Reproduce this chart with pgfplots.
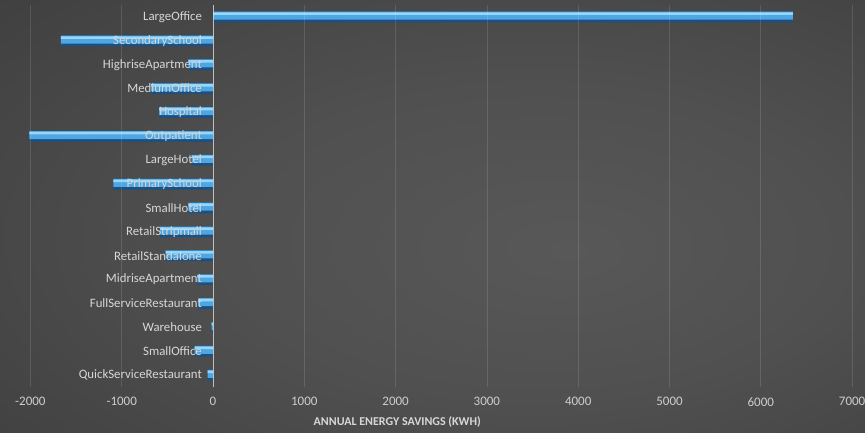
\documentclass[border=0pt]{standalone}
\usepackage{pgfplots}
\pgfplotsset{compat=1.18}
\usepackage{fontspec}
\setmainfont{Carlito}
\definecolor{bgin}{RGB}{88,88,88}
\definecolor{bgmid}{RGB}{80,80,80}
\definecolor{bgout}{RGB}{40,40,40}
\definecolor{bartop}{RGB}{150,214,248}
\definecolor{barmid}{RGB}{78,166,226}
\definecolor{barbot}{RGB}{28,80,130}
\definecolor{lbl}{RGB}{215,215,215}
\definecolor{tlbl}{RGB}{205,205,205}
\pgfdeclareradialshading{bgshade}{\pgfpoint{8bp}{-4bp}}{color(0bp)=(bgin); color(18bp)=(bgmid); color(72bp)=(bgout)}
\begin{document}
\begin{tikzpicture}[x=1pt,y=1pt]
\begin{axis}[
  set layers,
  at={(30.4pt,46pt)}, anchor=south west, scale only axis,
  width=821.7pt, height=382pt,
  xmin=-2000, xmax=7000, ymin=-0.5, ymax=15.5,
  clip=false,
  xtick={-2000,-1000,...,7000},
  ytick={0,...,15},
  yticklabels={QuickServiceRestaurant,SmallOffice,Warehouse,FullServiceRestaurant,MidriseApartment,RetailStandalone,RetailStripmall,SmallHotel,PrimarySchool,LargeHotel,Outpatient,Hospital,MediumOffice,HighriseApartment,SecondarySchool,LargeOffice},
  axis line style={draw=none},
  major tick length=0pt,
  xmajorgrids,
  major grid style={white, opacity=0.12, line width=0.8pt},
  extra x ticks={0},
  extra x tick labels={},
  extra x tick style={major grid style={color=lbl, opacity=0.8, line width=0.9pt}},
  /pgf/number format/assume math mode=true,
  scaled x ticks=false,
  x tick label style={font=\fontsize{13}{13}\selectfont, text=tlbl, yshift=-7pt},
  y tick label style={font=\fontsize{12.8}{13}\selectfont, text=lbl, xshift=175pt},
  xlabel={\bfseries ANNUAL ENERGY SAVINGS (KWH)},
  xlabel style={font=\fontsize{12}{13}\selectfont, text=lbl, yshift=-3pt, xshift=-44pt},
  /pgf/number format/.cd, 1000 sep={},
]
\begin{pgfonlayer}{axis background}
\shade[shading=bgshade] ([xshift=-30.4pt,yshift=-46pt]rel axis cs:0,0) rectangle ([xshift=12.9pt,yshift=5pt]rel axis cs:1,1);
\end{pgfonlayer}
\addplot[on layer=axis background, xbar, bar width=11pt, bar shift=0pt, draw=none, fill=barbot]
coordinates {
(6350,15) (-1665,14) (-270,13) (-680,12) (-590,11) (-2010,10) (-235,9) (-1090,8)
(-270,7) (-580,6) (-520,5) (-170,4) (-160,3) (-15,2) (-200,1) (-60,0)
};
\addplot[on layer=axis background, xbar, bar width=8pt, bar shift=1.3pt, draw=none, fill=barmid]
coordinates {
(6350,15) (-1665,14) (-270,13) (-680,12) (-590,11) (-2010,10) (-235,9) (-1090,8)
(-270,7) (-580,6) (-520,5) (-170,4) (-160,3) (-15,2) (-200,1) (-60,0)
};
\addplot[on layer=axis background, xbar, bar width=2.5pt, bar shift=3.2pt, draw=none, fill=bartop]
coordinates {
(6350,15) (-1665,14) (-270,13) (-680,12) (-590,11) (-2010,10) (-235,9) (-1090,8)
(-270,7) (-580,6) (-520,5) (-170,4) (-160,3) (-15,2) (-200,1) (-60,0)
};
\end{axis}
\pgfresetboundingbox
\useasboundingbox (0,0) rectangle (865,433);
\end{tikzpicture}
\end{document}
